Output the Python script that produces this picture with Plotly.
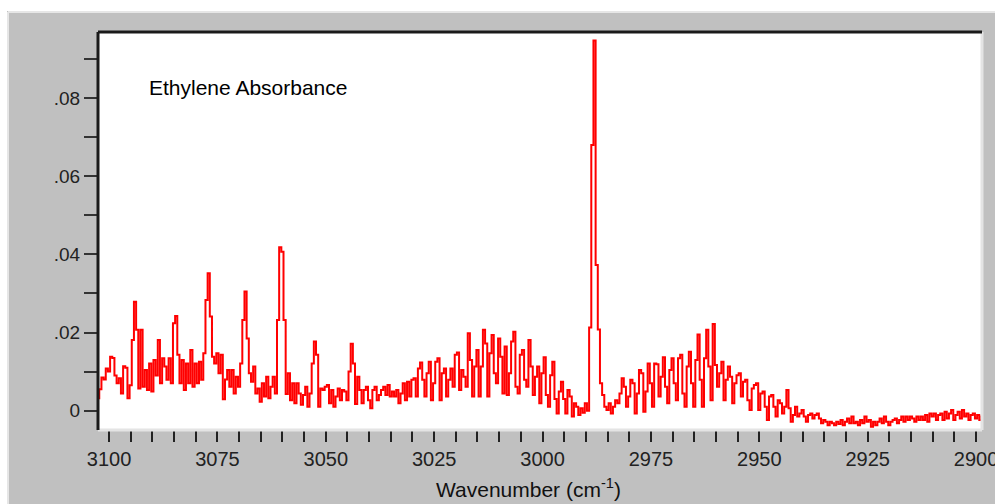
import numpy as np
import plotly.graph_objects as go

# ---- data ----
WN_START = 3102.5   # cm-1, first sample
WN_STEP = 0.5       # cm-1, sample spacing

# absorbance in milli-units, 3102.5 -> 3001.0 cm-1
absorbance_milli_a = [
    3.2, 5.5, 8.5, 8, 10.8, 10, 13.8, 13.5, 9, 7, 8.3, 4.4, 11.4, 11, 3.2, 6.5, 18.1, 27.9,
    20.7, 5.7, 20.7, 6.1, 10.4, 5.3, 12.1, 4.9, 13, 9, 18.1, 7, 13.4, 11.3, 7.9, 13.4, 7, 22.4,
    24.2, 14.3, 7, 13, 5.3, 12.1, 7, 15.5, 6.1, 12.1, 7, 12.5, 7.9, 14.7, 28.3, 35.2,
    24.1, 13.8, 12.1, 14.7, 9.6, 14.3, 2.9, 8, 10.4, 6.1, 10.4, 4.4, 8.7, 6.1, 12.1, 23.2, 30.5,
    18.5, 9.6, 7.4, 11.3, 4.4, 5.7, 2.3, 7, 3.6, 8.7, 3.2, 6.1, 8.7, 4.4, 23.2, 41.8, 40.7,
    23.2, 4.3, 9.6, 2.7, 7, 1.9, 7, 4.4, 1.5, 4, 6.1, 1, 4.4, 12.1, 17.7,
    14.3, 1, 5.7, 5.3, 6.1, 6.6, 1.9, 5.3, 1, 3.6, 5.7, 2.7, 5.3, 4.9, 2.7, 10, 17.1,
    12.1, 1.7, 8.7, 5.3, 1.9, 5.3, 6.1, 2.7, 0.6, 5.3, 6.1, 2.7, 4, 5.3, 6.1, 4, 6.6, 3.6,
    4.9, 3.6, 5.3, 1.9, 4.4, 7, 2.7, 7.4, 3.6, 7.9, 8.3, 3.6, 10.8, 12.3,
    7.9, 3.6, 9.6, 12.5, 2.7, 7, 12.5, 13.4, 2.7, 9.6, 10.8, 3.6, 7.9, 10.8, 6.1, 14.3, 14.9,
    5.3, 10.4, 8.7, 6.1, 19.8, 13, 3.6, 11.3, 15.5, 3.6, 11.3, 20.7, 17.2, 3.6, 14.7, 19.4,
    9.6, 7, 18.5, 13.8, 4.4, 16.4, 4, 9.6, 17.7, 20.2, 6.1, 4.4, 14.3, 15.5, 7.9, 6.1, 18.1,
    11.3, 4, 8.7, 11.3,
]

# absorbance in milli-units, 3000.5 -> 2898.5 cm-1
absorbance_milli_b = [
    1.9, 9.6, 13.7, 4, 1, 9.1, 12.5, 3, -0.7, 4.9, 7.4, 3, -0.7, 5.3, 3.6, -1.5, 1.9, 1,
    -1.1, 0.6, -0.5, 1.9, 0, 21.3, 68, 94.7, 37.3, 20.8, 7, 4,
    1, 0.2, 1.9, -0.7, 1, 2.7, 1.9, 4.4, 8.3, 6.1, 1, 3.6, 7.9, 7, -0.7, 4.4, 10.4, 9.6,
    -0.3, 4.9, 12.1, 7, 1, 12.1, 11.9, 3.6, 8.7, 13.7, 6.1, 1.9, 10.4, 13.4, 7, 2.7, 13.4,
    14.3, 4.4, 1, 11.3, 15.1, 7, 1, 13, 19.5, 7.9, 1, 13.4, 20.7, 11.3, 2.7, 22.2, 11.7,
    6.1, 9.6, 12.5, 2.7, 7.9, 11.3, 8.7, 1.9, 7, 9.1, 9.6, 3.6, 7.4, 7.9, 2.7, 0.2, 5.7,
    6.6, 7, 0.2, 4.4, 4.9, 1, -2.4, 3.6, 4, 1, -1.5, 2.7, 1.9, -0.7, 1, 5.3, 0.6, -2.8,
    -1.1, 1, -1.5, -0.7, 0.2, -1.5, -2.8, -1.1, -0.7, -2, -1.1, -0.7, -2, -3.2, -2.4, -2.8,
    -3.7, -2.8, -3.2, -3.7, -2.8, -3.4, -2.4, -3.7, -2.8, -2, -3.2, -1.5, -3.2, -2.8, -3.7,
    -2.4, -3.2, -1.5, -2.8, -2.4, -4.1, -2.8, -3.7, -2.8, -2, -3.2, -1.5, -2.8, -3.7, -2.8,
    -2.4, -2, -3.2, -2.4, -1.5, -2.8, -1.5, -2.4, -1.5, -2, -2.8, -1.5, -2.4, -1.5, -2.4,
    -1.1, -2.8, -0.7, -1.5, -0.7, -2.4, -1.1, -0.7, -2.4, -0.3, -2, -0.7, 0.2, -2.4, -1.1,
    -0.3, -2, 0.2, -1.5, -0.7, -2.4, -1.1, -0.7, -2, -1.1, -2.4, -1.5,
]

x_tick_values = [3100, 3075, 3050, 3025, 3000, 2975, 2950, 2925, 2900]
x_tick_labels = ["3100", "3075", "3050", "3025", "3000", "2975", "2950", "2925", "2900"]
x_minor_step = 5
y_tick_values = [0, 20, 40, 60, 80]
y_tick_labels = ["0", ".02", ".04", ".06", ".08"]
y_minor_step = 10
chart_label = "Ethylene Absorbance"
x_title = "Wavenumber (cm<sup>-1</sup>)"

# ---- build ----
values = absorbance_milli_a + absorbance_milli_b
wavenumber = WN_START - WN_STEP * np.arange(len(values))

W, H = 995, 504
ML, MR, MT, MB = 98, 13, 32, 74
PW, PH = W - ML - MR, H - MT - MB

def px(p):
    return (p - ML) / PW

def py(p):
    return 1 - (p - MT) / PH

font_family = "Arial, Liberation Sans, sans-serif"

fig = go.Figure(
    go.Scatter(
        x=wavenumber, y=values, mode="lines",
        line=dict(color="#ff0000", width=2, shape="hvh"),
        hoverinfo="skip",
    )
)

fig.update_layout(
    width=W, height=H,
    margin=dict(l=ML, r=MR, t=MT, b=MB, pad=0, autoexpand=False),
    paper_bgcolor="#c0c0c0",
    plot_bgcolor="#ffffff",
    showlegend=False,
    xaxis=dict(
        range=[3102.54, 2898.62], automargin=False,
        tickmode="array", tickvals=x_tick_values, ticktext=x_tick_labels,
        ticks="outside", ticklen=11, tickwidth=2, tickcolor="#222222",
        minor=dict(ticks="outside", ticklen=11, tickwidth=2, tickcolor="#222222",
                   tick0=2900, dtick=x_minor_step, showgrid=False),
        ticklabeloverflow="allow",
        showgrid=False, zeroline=False, showline=False,
        tickfont=dict(family=font_family, size=20, color="#222222"),
    ),
    yaxis=dict(
        range=[-4.94, 96.9], automargin=False,
        tickmode="array", tickvals=y_tick_values, ticktext=y_tick_labels,
        ticks="outside", ticklen=13, tickwidth=2, tickcolor="#333333",
        minor=dict(ticks="outside", ticklen=13, tickwidth=2, tickcolor="#333333",
                   tick0=0, dtick=y_minor_step, showgrid=False),
        showgrid=False, zeroline=False, showline=False,
        tickfont=dict(family=font_family, size=19, color="#222222"),
    ),
    shapes=[
        # white window margin (top/left)
        dict(type="rect", xref="paper", yref="paper", x0=px(-5), x1=px(W + 5),
             y0=py(11), y1=py(-5), fillcolor="#ffffff", line=dict(width=0)),
        dict(type="rect", xref="paper", yref="paper", x0=px(-5), x1=px(7),
             y0=py(H + 5), y1=py(-5), fillcolor="#ffffff", line=dict(width=0)),
        dict(type="line", xref="paper", yref="paper", x0=px(8), x1=px(W + 5),
             y0=py(12), y1=py(12), line=dict(color="#e6e6e6", width=2)),
        dict(type="line", xref="paper", yref="paper", x0=px(8), x1=px(8),
             y0=py(12), y1=py(H + 5), line=dict(color="#e6e6e6", width=2)),
        # plot frame (inset look)
        dict(type="line", xref="paper", yref="paper", x0=1, x1=1, y0=0, y1=1,
             line=dict(color="#e4e4e4", width=3)),
        dict(type="line", xref="paper", yref="paper", x0=0, x1=1, y0=0, y1=0,
             line=dict(color="#e4e4e4", width=3)),
        dict(type="line", xref="paper", yref="paper", x0=0, x1=0, y0=0, y1=1,
             line=dict(color="#1a1a1a", width=3)),
        dict(type="line", xref="paper", yref="paper", x0=0, x1=1, y0=1, y1=1,
             line=dict(color="#1a1a1a", width=3)),
    ],
    annotations=[
        dict(text=chart_label, xref="paper", yref="paper", x=px(147), y=py(87),
             xanchor="left", yanchor="middle", showarrow=False,
             font=dict(family=font_family, size=21, color="#000000")),
        dict(text=x_title, xref="paper", yref="paper", x=px(528.5), y=py(488),
             xanchor="center", yanchor="middle", showarrow=False,
             font=dict(family=font_family, size=21, color="#111111")),
    ],
)

fig.write_html("out.html")
